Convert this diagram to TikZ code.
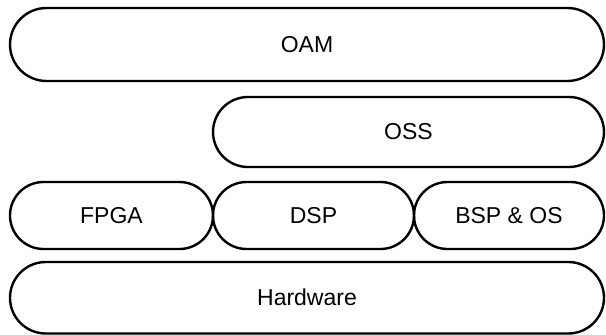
\documentclass[tikz,border=0pt]{standalone}
\usepackage{fontspec}
\setmainfont{Liberation Sans}
\usetikzlibrary{positioning}

\begin{document}
\begin{tikzpicture}[x=1pt,y=-1pt,
    layer/.style={draw,line width=2.4pt,inner sep=0pt,font=\fontsize{23}{26}\selectfont},
    tall/.style={minimum height=73pt,rounded corners=36.5pt},
    mid/.style={minimum height=70pt,rounded corners=35pt},
    low/.style={minimum height=67pt,rounded corners=33.5pt}]
        \useasboundingbox (0,0) rectangle (606,335);

        \node[layer,tall,minimum width=594pt] (oam) at (307,44.5) {OAM};
        \node[layer,mid,minimum width=391pt] (oss) at (408.5,132) {OSS};
        % middle row
        \node[layer,low,minimum width=203pt] (fpga) at (111.5,215.5) {FPGA};
        \node[layer,low,minimum width=201pt] (dsp) at (313.5,215.5) {DSP};
        \node[layer,low,minimum width=190pt] (bsp) at (509,215.5) {BSP \& OS};

        \node[layer,minimum width=594pt,minimum height=71.5pt,rounded corners=35.75pt] (hw) at (307,297.75) {Hardware};
      \end{tikzpicture}
\end{document}
